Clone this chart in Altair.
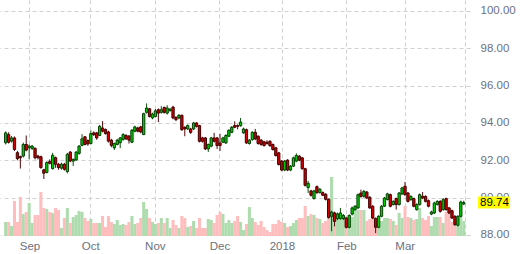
import altair as alt
import pandas as pd

# ---- data (daily candles, ~Aug 2017 - Mar 2018) ----
opens = [92.94, 93.38, 93.03, 93.20, 92.41, 92.20, 92.23, 92.85, 92.67, 92.64,
         92.64, 92.23, 92.19, 91.49, 91.35, 91.93, 91.56, 92.14, 91.79, 91.58,
         91.79, 91.40, 92.44, 91.96, 92.02, 92.37, 92.80, 93.26, 93.06, 92.90,
         93.47, 93.47, 93.33, 93.73, 93.65, 93.52, 93.08, 92.67, 92.85, 92.94,
         93.12, 93.33, 93.30, 92.97, 93.56, 93.73, 93.79, 93.38, 94.57, 94.76,
         94.27, 94.35, 94.71, 94.57, 94.83, 94.53, 94.67, 94.85, 94.30, 94.27,
         94.41, 93.77, 93.68, 93.68, 93.68, 94.00, 93.86, 93.20, 93.20, 92.61,
         92.76, 93.20, 93.20, 92.93, 92.97, 92.93, 93.29, 93.50, 93.86, 93.86,
         93.86, 93.47, 93.64, 92.90, 93.11, 93.50, 93.29, 93.08, 92.99, 92.97,
         93.02, 92.85, 92.67, 92.40, 91.96, 91.48, 92.01, 91.48, 91.69, 91.96,
         92.22, 92.13, 91.55, 90.54, 90.36, 89.95, 90.59, 90.27, 90.27, 90.18,
         89.91, 89.00, 89.18, 88.88, 88.88, 88.88, 88.91, 88.41, 89.12, 89.36,
         89.45, 90.25, 90.07, 90.30, 90.02, 89.54, 88.88, 88.41, 89.00, 89.54,
         89.90, 90.16, 89.63, 89.95, 89.63, 90.20, 90.61, 90.25, 89.89, 89.95,
         89.36, 89.63, 90.07, 90.07, 89.84, 89.12, 89.18, 89.63, 89.80, 89.36,
         89.95, 89.45, 89.30, 89.00, 88.52, 89.00, 89.66]
closes = [93.47, 92.97, 93.20, 92.58, 92.09, 92.14, 92.85, 92.55, 92.76, 92.76,
          92.14, 92.14, 91.61, 91.31, 91.88, 91.84, 92.27, 91.79, 91.61, 91.79,
          91.52, 92.32, 91.96, 92.05, 92.44, 92.76, 93.15, 92.85, 92.88, 93.43,
          93.38, 93.20, 93.82, 93.56, 93.43, 93.03, 92.80, 92.90, 93.08, 93.20,
          93.38, 93.15, 93.08, 93.61, 93.79, 93.56, 93.52, 94.50, 94.80, 94.35,
          94.48, 94.65, 94.53, 94.71, 94.57, 94.80, 94.74, 94.27, 94.18, 94.41,
          93.64, 93.68, 93.86, 93.50, 94.00, 93.82, 93.02, 93.02, 92.61, 92.85,
          93.20, 93.02, 92.79, 92.79, 93.20, 93.33, 93.61, 93.77, 93.77, 93.82,
          94.05, 93.68, 92.93, 93.08, 93.50, 93.15, 92.90, 92.85, 92.79, 92.90,
          92.79, 92.58, 92.26, 91.78, 91.48, 91.96, 91.48, 91.69, 92.13, 92.26,
          92.01, 91.55, 90.66, 90.77, 90.13, 90.36, 90.27, 90.45, 90.13, 89.91,
          88.94, 89.23, 88.73, 89.12, 89.18, 89.05, 88.41, 89.05, 89.45, 89.54,
          90.16, 90.07, 90.34, 89.98, 89.45, 88.91, 88.41, 89.00, 89.54, 89.98,
          90.20, 89.54, 89.80, 89.63, 90.25, 90.52, 90.16, 89.80, 90.07, 89.54,
          89.63, 90.16, 89.98, 89.80, 89.54, 89.23, 89.71, 89.80, 89.27, 89.89,
          89.36, 89.18, 88.91, 88.55, 89.00, 89.77, 89.74]
highs = [93.55, 93.50, 93.30, 93.28, 92.50, 92.25, 92.95, 93.33, 92.85, 92.82,
         92.70, 92.30, 92.25, 91.55, 91.95, 92.05, 92.40, 92.20, 91.85, 91.88,
         91.86, 92.40, 92.50, 92.10, 92.50, 92.82, 93.40, 93.30, 93.12, 93.60,
         93.55, 93.52, 93.90, 94.10, 93.70, 93.58, 93.15, 92.95, 93.15, 93.25,
         93.45, 93.40, 93.35, 93.68, 93.85, 93.80, 93.85, 94.55, 95.05, 94.80,
         94.55, 94.75, 94.78, 94.90, 94.88, 94.95, 94.80, 94.92, 94.36, 94.48,
         94.45, 93.82, 93.92, 93.74, 94.06, 94.05, 93.90, 93.26, 93.25, 92.90,
         93.26, 93.47, 93.25, 93.42, 93.26, 93.40, 93.66, 93.84, 94.09, 93.92,
         94.27, 93.75, 93.70, 93.14, 93.56, 93.68, 93.34, 93.14, 93.05, 93.08,
         93.07, 92.90, 92.72, 92.45, 92.02, 92.02, 92.06, 91.75, 92.20, 92.37,
         92.28, 92.18, 91.60, 90.90, 90.42, 90.42, 90.65, 90.52, 90.33, 90.24,
         89.96, 89.30, 89.25, 89.20, 89.45, 89.12, 88.98, 89.10, 89.52, 89.60,
         90.22, 90.43, 90.40, 90.36, 90.08, 89.60, 88.94, 89.06, 89.60, 90.04,
         90.26, 90.22, 89.86, 90.00, 90.30, 90.58, 90.84, 90.30, 90.12, 90.00,
         89.70, 90.22, 90.30, 90.12, 89.90, 89.30, 89.78, 89.86, 89.86, 89.98,
         90.00, 89.50, 89.36, 89.06, 89.06, 89.84, 89.84]
lows = [92.85, 92.90, 92.95, 92.50, 92.00, 91.56, 92.15, 92.48, 92.05, 92.55,
        92.05, 92.05, 91.55, 91.00, 91.30, 91.78, 91.50, 91.60, 91.50, 91.50,
        91.45, 91.30, 91.90, 91.70, 91.98, 92.30, 92.75, 92.80, 92.78, 92.85,
        93.30, 93.10, 93.30, 93.50, 93.38, 92.95, 92.70, 92.55, 92.80, 92.65,
        93.05, 93.10, 92.90, 92.92, 93.50, 93.50, 93.45, 93.35, 94.50, 94.30,
        94.20, 94.30, 94.05, 94.50, 94.50, 94.45, 94.60, 94.20, 94.10, 94.20,
        93.58, 93.29, 93.62, 93.41, 93.62, 93.76, 92.96, 92.95, 92.55, 92.45,
        92.70, 92.96, 92.61, 92.50, 92.92, 92.88, 93.24, 93.45, 93.72, 93.66,
        93.80, 93.42, 92.88, 92.84, 93.05, 93.08, 92.84, 92.78, 92.74, 92.84,
        92.72, 92.52, 92.20, 91.72, 91.42, 91.42, 91.42, 91.42, 91.64, 91.90,
        91.95, 91.50, 90.60, 90.25, 90.06, 89.90, 90.20, 90.22, 90.08, 89.85,
        88.88, 88.20, 88.46, 88.80, 88.82, 88.80, 88.35, 88.36, 89.05, 89.30,
        89.40, 90.00, 90.00, 89.92, 89.40, 88.85, 88.10, 88.36, 88.95, 89.50,
        89.85, 89.48, 89.58, 89.36, 89.58, 90.15, 90.10, 89.74, 89.84, 89.48,
        89.30, 89.58, 89.92, 89.74, 89.48, 89.06, 89.12, 89.58, 89.20, 89.30,
        89.30, 89.12, 88.85, 88.50, 88.46, 88.95, 89.60]
volumes = [14, 14, 10, 35, 14, 39, 22, 24, 33, 13,
           21, 21, 44, 28, 27, 24, 23, 28, 26, 8,
           18, 28, 13, 19, 21, 25, 24, 18, 15, 17,
           13, 13, 13, 20, 9, 20, 14, 12, 16, 11,
           12, 11, 14, 20, 12, 13, 18, 34, 27, 18,
           14, 12, 13, 18, 13, 18, 8, 16, 11, 8,
           20, 18, 9, 10, 15, 8, 18, 8, 8, 17,
           16, 13, 21, 24, 22, 13, 16, 13, 15, 20,
           14, 6, 12, 29, 18, 14, 11, 15, 9, 6,
           4, 12, 12, 16, 14, 13, 9, 10, 13, 16,
           18, 18, 30, 20, 22, 21, 18, 17, 13, 15,
           23, 59, 24, 23, 23, 19, 16, 19, 19, 26,
           26, 26, 26, 15, 17, 19, 15, 13, 15, 18,
           18, 17, 15, 11, 23, 18, 30, 19, 18, 16,
           17, 28, 18, 16, 20, 10, 19, 19, 19, 13,
           24, 28, 14, 11, 16, 20, 15]

month_labels = ["Sep", "Oct", "Nov", "Dec", "2018", "Feb", "Mar"]
month_pos = [8.1, 28.8, 50.8, 72.8, 94.1, 116.0, 135.9]
price_ticks = [88, 90, 92, 94, 96, 98, 100]
last_price = closes[-1]

# ---- build ----
n = len(closes)
df = pd.DataFrame({"i": list(range(n)), "open": opens, "close": closes,
                   "high": highs, "low": lows, "volume": volumes})
last_df = pd.DataFrame({"last": [last_price]})

x_dom = [-0.23, 156.43]
y_dom = [87.946, 100.589]
x_scale = alt.Scale(domain=x_dom, nice=False, zero=False)
y_scale = alt.Scale(domain=y_dom, nice=False, zero=False)

font = "Liberation Sans"
label_color = "#6b7180"
grid_color = "#d0d0d0"

label_expr = "''"
for pos, lab in reversed(list(zip(month_pos, month_labels))):
    label_expr = f"abs(datum.value - {pos}) < 0.01 ? '{lab}' : ({label_expr})"

x_axis = alt.Axis(values=month_pos + [x_dom[1]], labelExpr=label_expr, grid=True,
                  gridColor=grid_color, gridDash=[4, 3], gridWidth=1, domain=False,
                  ticks=False, title=None, labelFont=font, labelFontSize=11.5,
                  labelColor=label_color, labelPadding=4, labelBaseline="top",
                  labelFlush=False, labelOverlap=False, labelAlign="center")
y_axis = alt.Axis(orient="right", values=price_ticks, format=".2f", grid=True,
                  gridColor=grid_color, gridDash=[4, 3], gridWidth=1, domain=False,
                  ticks=False, title=None, labelFont=font, labelFontSize=11.5,
                  labelColor=label_color, labelPadding=10, labelAlign="left",
                  labelBaseline="middle")

up = "datum.close >= datum.open"
x_enc = alt.X("i:Q", scale=x_scale, axis=x_axis)

vol = alt.Chart(df).mark_bar(width=3.05).encode(
    x=x_enc,
    y=alt.Y("volume:Q", scale=alt.Scale(domain=[0, 236], nice=False, zero=True), axis=None),
    color=alt.condition(up, alt.value("#aedcae"), alt.value("#ffbdbd")),
)

wicks = alt.Chart(df).mark_rule(strokeWidth=1).encode(
    x=x_enc,
    y=alt.Y("low:Q", scale=y_scale, axis=y_axis),
    y2="high:Q",
    color=alt.condition(up, alt.value("#0a500a"), alt.value("#550808")),
)

bodies = alt.Chart(df).mark_bar(width=2.3, strokeWidth=1).encode(
    x=x_enc,
    y=alt.Y("open:Q", scale=y_scale, axis=y_axis),
    y2="close:Q",
    color=alt.condition(up, alt.value("#00cc00"), alt.value("#d00000")),
    stroke=alt.condition(up, alt.value("#064006"), alt.value("#420000")),
)

box = alt.Chart(last_df).transform_calculate(
    top="datum.last + 0.32", bot="datum.last - 0.32"
).mark_rect(color="#ffff00").encode(
    x=alt.value(478), x2=alt.value(510),
    y=alt.Y("top:Q", scale=y_scale, axis=y_axis), y2="bot:Q",
)

box_text = alt.Chart(last_df).mark_text(
    align="left", baseline="middle", font=font, fontSize=11.5, color="#000000"
).encode(
    x=alt.value(480),
    y=alt.Y("last:Q", scale=y_scale, axis=y_axis),
    text=alt.Text("last:Q", format=".2f"),
)

price_layer = alt.layer(wicks, bodies, box, box_text)

chart = alt.layer(vol, price_layer).resolve_scale(y="independent").properties(
    width=470, height=236,
    padding={"left": 0, "top": 0, "right": 50, "bottom": 18},
    autosize="none", background="white",
).configure_view(strokeWidth=0)

chart.save("out.html", embed_options={"renderer": "svg", "actions": False})
